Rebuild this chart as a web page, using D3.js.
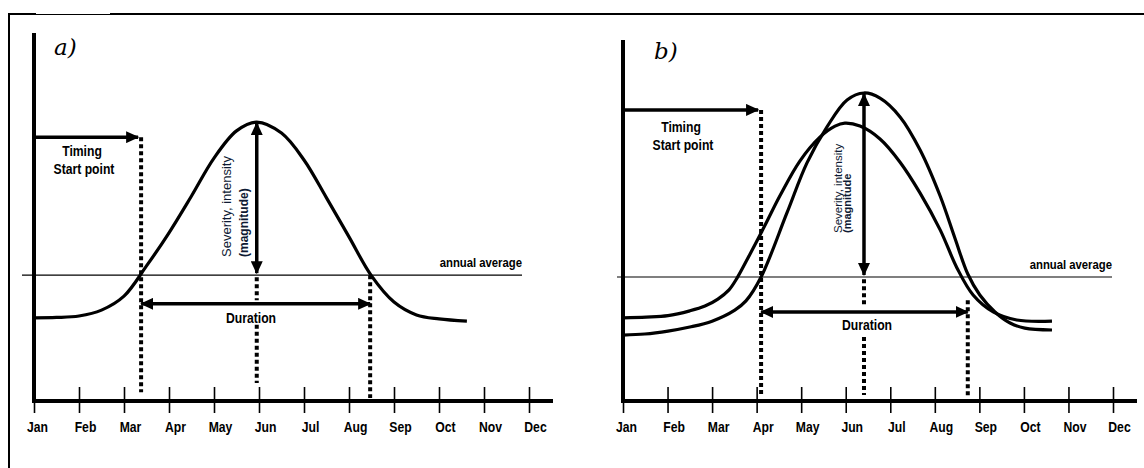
<!DOCTYPE html>
<html>
<head>
<meta charset="utf-8">
<script src="https://cdn.jsdelivr.net/npm/d3@7"></script>
<style>
  body { margin: 0; background: #fff; }
  svg { display: block; }
  text { font-family: "Liberation Sans", Arial, sans-serif; }
  .lbl { font-weight: bold; }
</style>
</head>
<body>
<svg id="chart" width="1144" height="468"></svg>
<script>
// Month labels along the time axis (0 = Jan ... 11 = Dec)
const monthLabels = ["Jan", "Feb", "Mar", "Apr", "May", "Jun", "Jul", "Aug", "Sep", "Oct", "Nov", "Dec"];

// Panel a) single seasonal curve (month position, relative level 0-100)
const aMonths = [0, 0.5, 1, 1.5, 2, 2.5, 3, 3.5, 4, 4.5, 4.95, 5.5, 6, 6.5, 7, 7.5, 8, 8.5, 9, 9.62];
const aValues = [22.6, 22.7, 23.1, 24.7, 28.5, 36.7, 45.7, 55.7, 66.0, 73.4, 75.8, 72.8, 65.5, 55.2, 44.6, 34.0, 26.9, 23.4, 22.3, 21.7];

// Panel b) broader, earlier curve
const bWideMonths = [0, 0.52, 1.01, 1.5, 1.84, 2.13, 2.38, 2.56, 2.85, 3.19, 3.52, 3.97, 4.42, 4.76, 4.98, 5.32, 5.77, 6.22, 6.67, 7.12, 7.5, 7.86, 8.31, 8.84, 9.63];
const bWideValues = [22.6, 22.8, 23.2, 24.5, 25.8, 27.7, 30.2, 33.4, 39.9, 47.8, 55.7, 65.2, 71.7, 74.7, 75.5, 74.7, 71.2, 64.9, 56.5, 46.5, 36.1, 28.8, 24.2, 22.0, 21.7];

// Panel b) later, taller curve
const bTallMonths = [0, 0.49, 1.01, 1.5, 2.0, 2.51, 2.76, 3.1, 3.68, 4.13, 4.58, 5.03, 5.41, 5.77, 6.22, 6.67, 7.12, 7.45, 7.74, 8.01, 8.35, 8.69, 9.02, 9.63];
const bTallValues = [17.9, 18.2, 19.0, 20.1, 21.7, 24.7, 27.2, 33.7, 51.1, 64.7, 74.5, 81.8, 83.7, 82.3, 77.2, 68.2, 55.7, 44.3, 34.5, 28.8, 24.2, 21.2, 19.8, 19.3];

// Event markers per panel [a, b]
const annualAverage = [34.2, 33.7];
const startMonth    = [2.38, 3.10];
const peakMonth     = [4.95, 5.41];
const peakValue     = [75.8, 83.7];
const endMonth      = [7.47, 7.74];
const timingLevel   = [71.7, 79.1];
const durationLevel = [26.4, 24.2];
const yAxisTop      = [100, 98.1];
const panelTags     = ["a)", "b)"];

const svg = d3.select("#chart");
const NARROW = 0.87; // horizontal squeeze giving the condensed bold label look

// Arrowhead marker
const defs = svg.append("defs");
defs.append("marker")
  .attr("id", "head")
  .attr("markerUnits", "userSpaceOnUse")
  .attr("markerWidth", 13).attr("markerHeight", 12)
  .attr("refX", 12).attr("refY", 6)
  .attr("orient", "auto-start-reverse")
  .append("path").attr("d", "M0,0 L13,6 L0,12 Z").attr("fill", "#000");

// Outer frame: left and top edges
svg.append("line").attr("x1", 9).attr("y1", 13).attr("x2", 9).attr("y2", 468)
  .attr("stroke", "#000").attr("stroke-width", 2);
svg.append("line").attr("x1", 8).attr("y1", 14).attr("x2", 36).attr("y2", 14)
  .attr("stroke", "#000").attr("stroke-width", 2);
svg.append("line").attr("x1", 36).attr("y1", 14.5).attr("x2", 110).attr("y2", 14.5)
  .attr("stroke", "#000").attr("stroke-width", 1);
svg.append("line").attr("x1", 110).attr("y1", 14).attr("x2", 1144).attr("y2", 14)
  .attr("stroke", "#000").attr("stroke-width", 2);

const y = d3.scaleLinear().domain([0, 100]).range([401, 33]);

// Condensed bold label anchored at (cx, cy)
function label(parent, cx, cy, text, size, anchor) {
  parent.append("text").attr("class", "lbl")
    .attr("transform", `translate(${cx},${cy}) scale(${NARROW},1)`)
    .attr("text-anchor", anchor || "middle")
    .style("font-size", size + "px").text(text);
}

const panels = [
  { xr: [34, 529], axisEnd: 553, avgFrom: 22, avgTo: 522, tagPos: [54, 55],
    curves: [[aMonths, aValues]], timingText: [82, 156],
    sevBottom: 257, sevOff: [-26, -9], sevSize: [13, 12], sevLabels: ["Severity, intensity", "(magnitude)"],
    midGap: [27.4, 20.7], midEnd: 4.9, leftEnd: 2.4, rightTop: 34.2, rightEnd: 0.8, durText: [251, 323] },
  { xr: [623, 1113], axisEnd: 1137, avgFrom: 617, avgTo: 1112, tagPos: [654, 59],
    curves: [[bWideMonths, bWideValues], [bTallMonths, bTallValues]], timingText: [681, 132],
    sevBottom: 233, sevOff: [-22, -13], sevSize: [11.5, 11], sevLabels: ["Severity, intensity", "(magnitude"],
    midGap: [25.5, 17.4], midEnd: 1.6, leftEnd: 1.1, rightTop: 27.4, rightEnd: 0.8, durText: [867, 330] }
];

panels.forEach((p, i) => {
  const x = d3.scaleLinear().domain([0, 11]).range(p.xr);
  const g = svg.append("g");

  // Panel tag
  g.append("text").attr("x", p.tagPos[0]).attr("y", p.tagPos[1])
    .style("font-family", "'DejaVu Serif', serif").style("font-style", "italic")
    .style("font-size", "23px").text(panelTags[i]);

  // Annual average reference line and label
  g.append("line").attr("x1", p.avgFrom).attr("x2", p.avgTo)
    .attr("y1", y(annualAverage[i])).attr("y2", y(annualAverage[i]))
    .attr("stroke", "#000").attr("stroke-width", 1.2);
  label(g, p.avgTo, y(annualAverage[i]) - 8, "annual average", 13, "end");

  // Dotted guides
  const dotted = (mx, v0, v1) => g.append("line")
    .attr("x1", x(mx)).attr("x2", x(mx)).attr("y1", y(v0)).attr("y2", y(v1))
    .attr("stroke", "#000").attr("stroke-width", 4).attr("stroke-dasharray", "4,3");
  dotted(startMonth[i], timingLevel[i], p.leftEnd);
  dotted(peakMonth[i], annualAverage[i] - 0.6, p.midGap[0]);
  dotted(peakMonth[i], p.midGap[1], p.midEnd);
  dotted(endMonth[i], p.rightTop, p.rightEnd);

  // Seasonal curves
  const line = d3.line().x(d => x(d[0])).y(d => y(d[1])).curve(d3.curveCatmullRom.alpha(0.5));
  p.curves.forEach(([ms, vs]) => {
    g.append("path").datum(ms.map((m, k) => [m, vs[k]]))
      .attr("d", line).attr("fill", "none").attr("stroke", "#000").attr("stroke-width", 3.2);
  });

  // Timing arrow from the vertical axis to the start point
  g.append("line").attr("x1", x(0) + 1).attr("x2", x(startMonth[i]) - 3)
    .attr("y1", y(timingLevel[i])).attr("y2", y(timingLevel[i]))
    .attr("stroke", "#000").attr("stroke-width", 3.5).attr("marker-end", "url(#head)");
  label(g, p.timingText[0], p.timingText[1], "Timing", 14);
  label(g, p.timingText[0] + 2, p.timingText[1] + 18, "Start point", 14);

  // Severity arrow between annual average and peak
  g.append("line").attr("x1", x(peakMonth[i])).attr("x2", x(peakMonth[i]))
    .attr("y1", y(peakValue[i]) + 1).attr("y2", y(annualAverage[i]) - 2)
    .attr("stroke", "#000").attr("stroke-width", 3.5)
    .attr("marker-start", "url(#head)").attr("marker-end", "url(#head)");
  p.sevLabels.forEach((t, k) => {
    const sx = x(peakMonth[i]) + p.sevOff[k];
    g.append("text").attr("transform", `translate(${sx},${p.sevBottom}) rotate(-90)`)
      .style("font-size", p.sevSize[k] + "px")
      .style("font-weight", k === 1 ? "bold" : "normal")
      .attr("fill", "#0e1a33").text(t);
  });

  // Duration arrow between the two crossings
  g.append("line").attr("x1", x(startMonth[i])).attr("x2", x(endMonth[i]))
    .attr("y1", y(durationLevel[i])).attr("y2", y(durationLevel[i]))
    .attr("stroke", "#000").attr("stroke-width", 3.5)
    .attr("marker-start", "url(#head)").attr("marker-end", "url(#head)");
  label(g, p.durText[0], p.durText[1], "Duration", 14);

  // Vertical axis line
  g.append("line").attr("x1", x(0)).attr("x2", x(0))
    .attr("y1", y(yAxisTop[i])).attr("y2", y(0) + 2)
    .attr("stroke", "#000").attr("stroke-width", 4);

  // Time axis with month ticks crossing the axis line
  const ax = g.append("g").attr("transform", `translate(0,${y(0)})`)
    .call(d3.axisBottom(x).tickValues(d3.range(12)).tickFormat(d => monthLabels[d]).tickSize(12));
  ax.select(".domain").remove();
  ax.selectAll(".tick line").attr("y1", -14).attr("y2", 12).attr("stroke", "#000").attr("stroke-width", 1.6);
  ax.selectAll(".tick text").attr("class", "lbl").attr("y", null).attr("dy", null)
    .attr("transform", d => `translate(${d === 0 ? 3 : 6},31) scale(${NARROW},1)`)
    .attr("font-family", null).attr("font-size", null)
    .style("font-size", "14px").attr("fill", "#000");
  g.append("line").attr("x1", x(0) - 2).attr("x2", p.axisEnd)
    .attr("y1", y(0)).attr("y2", y(0)).attr("stroke", "#000").attr("stroke-width", 4);
});
</script>
</body>
</html>
